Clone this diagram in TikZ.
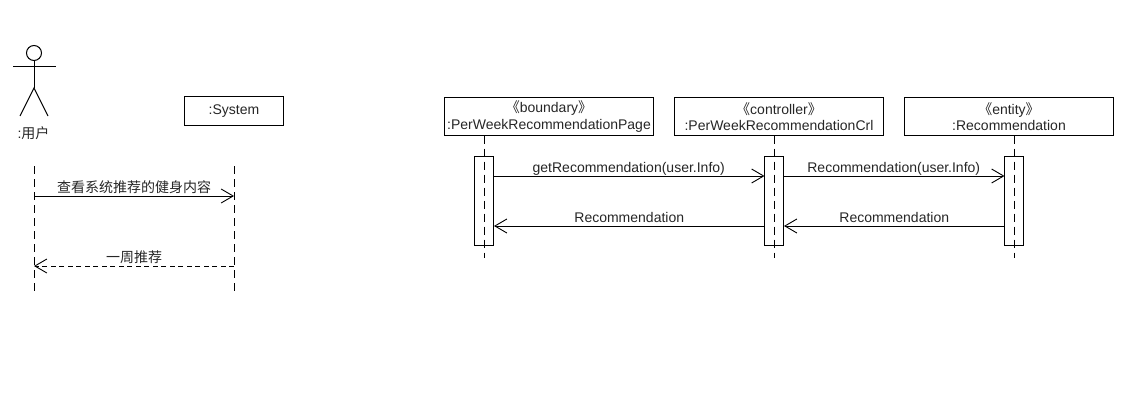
\documentclass[tikz,border=0pt]{standalone}
\usepackage{fontspec}
\setmainfont{Liberation Sans}
\newfontfamily\cjk{Noto Sans CJK SC}
\usetikzlibrary{arrows.meta}
\tikzset{
  x=1pt,y=-1pt,
  every node/.style={font=\fontsize{14}{16.5}\selectfont,inner sep=0pt,outer sep=0pt,text=black!85},
  objbox/.style={draw=black,line width=1pt,minimum width=209pt,minimum height=38pt,align=center,anchor=north west},
  sysbox/.style={draw=black,line width=1pt,minimum width=99pt,minimum height=29pt,anchor=north west},
  actbox/.style={draw=black,line width=1pt,minimum width=18.5pt,minimum height=89pt,anchor=north west},
  lifeline/.style={line width=1pt,dash pattern=on 8pt off 5pt},
  msg/.style={line width=1pt,-{Straight Barb[length=12pt,width=14pt,line width=0.9pt]}},
  retmsg/.style={msg,dash pattern=on 5pt off 3.5pt},
  msglabel/.style={anchor=center,yshift=9pt},
  parlabel/.style={anchor=center,yshift=7pt},
}
\begin{document}
\begin{tikzpicture}
\useasboundingbox (0,0) rectangle (1131,409);
% actor
\node[draw=black,circle,line width=1pt,minimum size=15pt] (head) at (34,53) {};
\coordinate (armL) at (13,67);
\coordinate (armR) at (56,67);
\coordinate (hip) at (34,88);
\coordinate (legL) at (20,116);
\coordinate (legR) at (48,116);
\draw[line width=1pt] (armL) -- (armR);
\draw[line width=1pt] (head.south) -- (hip);
\draw[line width=1pt] (legL) -- (hip) -- (legR);
\node (user) at (33.5,133) {:{\cjk 用户}};
% objects
\node[sysbox] (sys) at (184.5,96.5) {:System};
\node[objbox] (bd) at (444.5,97.5) {{\cjk 《}boundary{\cjk 》}\\:PerWeekRecommendationPage};
\node[objbox] (ct) at (674.5,97.5) {{\cjk 《}controller{\cjk 》}\\:PerWeekRecommendationCrl};
\node[objbox] (en) at (904.5,97.5) {{\cjk 《}entity{\cjk 》}\\:Recommendation};
% lifelines
\coordinate (uT) at (34,166); \coordinate (uB) at (34,291);
\coordinate (sT) at (234,166); \coordinate (sB) at (234,291);
\coordinate (bB) at (484,258); \coordinate (cB) at (774,258); \coordinate (eB) at (1014,258);
\draw[lifeline] (uT) -- (uB);
\draw[lifeline] (sT) -- (sB);
% activations
\node[actbox] (ba) at (474.5,156.5) {};
\node[actbox] (ca) at (764.5,156.5) {};
\node[actbox] (ea) at (1004.5,156.5) {};
\draw[lifeline] (bd.south -| bB) -- (bB);
\draw[lifeline] (ct.south -| cB) -- (cB);
\draw[lifeline] (en.south -| eB) -- (eB);
% messages
\coordinate (m1a) at (34,196); \coordinate (m1b) at (234,196);
\coordinate (m2a) at (234,266); \coordinate (m2b) at (34,266);
\draw[msg] (m1a) -- (m1b) node[msglabel,midway] (l1) {\cjk 查看系统推荐的健身内容};
\draw[retmsg] (m2a) -- (m2b) node[msglabel,midway] (l2) {\cjk 一周推荐};
\coordinate (y1) at (0,176); \coordinate (y2) at (0,226);
\draw[msg] (ba.east |- y1) -- (ca.west |- y1) node[parlabel,midway] (l3) {getRecommendation(user.Info)};
\draw[msg] (ca.east |- y1) -- (ea.west |- y1) node[parlabel,midway] (l4) {Recommendation(user.Info)};
\draw[msg] (ca.west |- y2) -- ([xshift=1pt]ba.east |- y2) node[msglabel,midway] (l5) {Recommendation};
\draw[msg] (ea.west |- y2) -- ([xshift=1pt]ca.east |- y2) node[msglabel,midway] (l6) {Recommendation};
\end{tikzpicture}
\end{document}
